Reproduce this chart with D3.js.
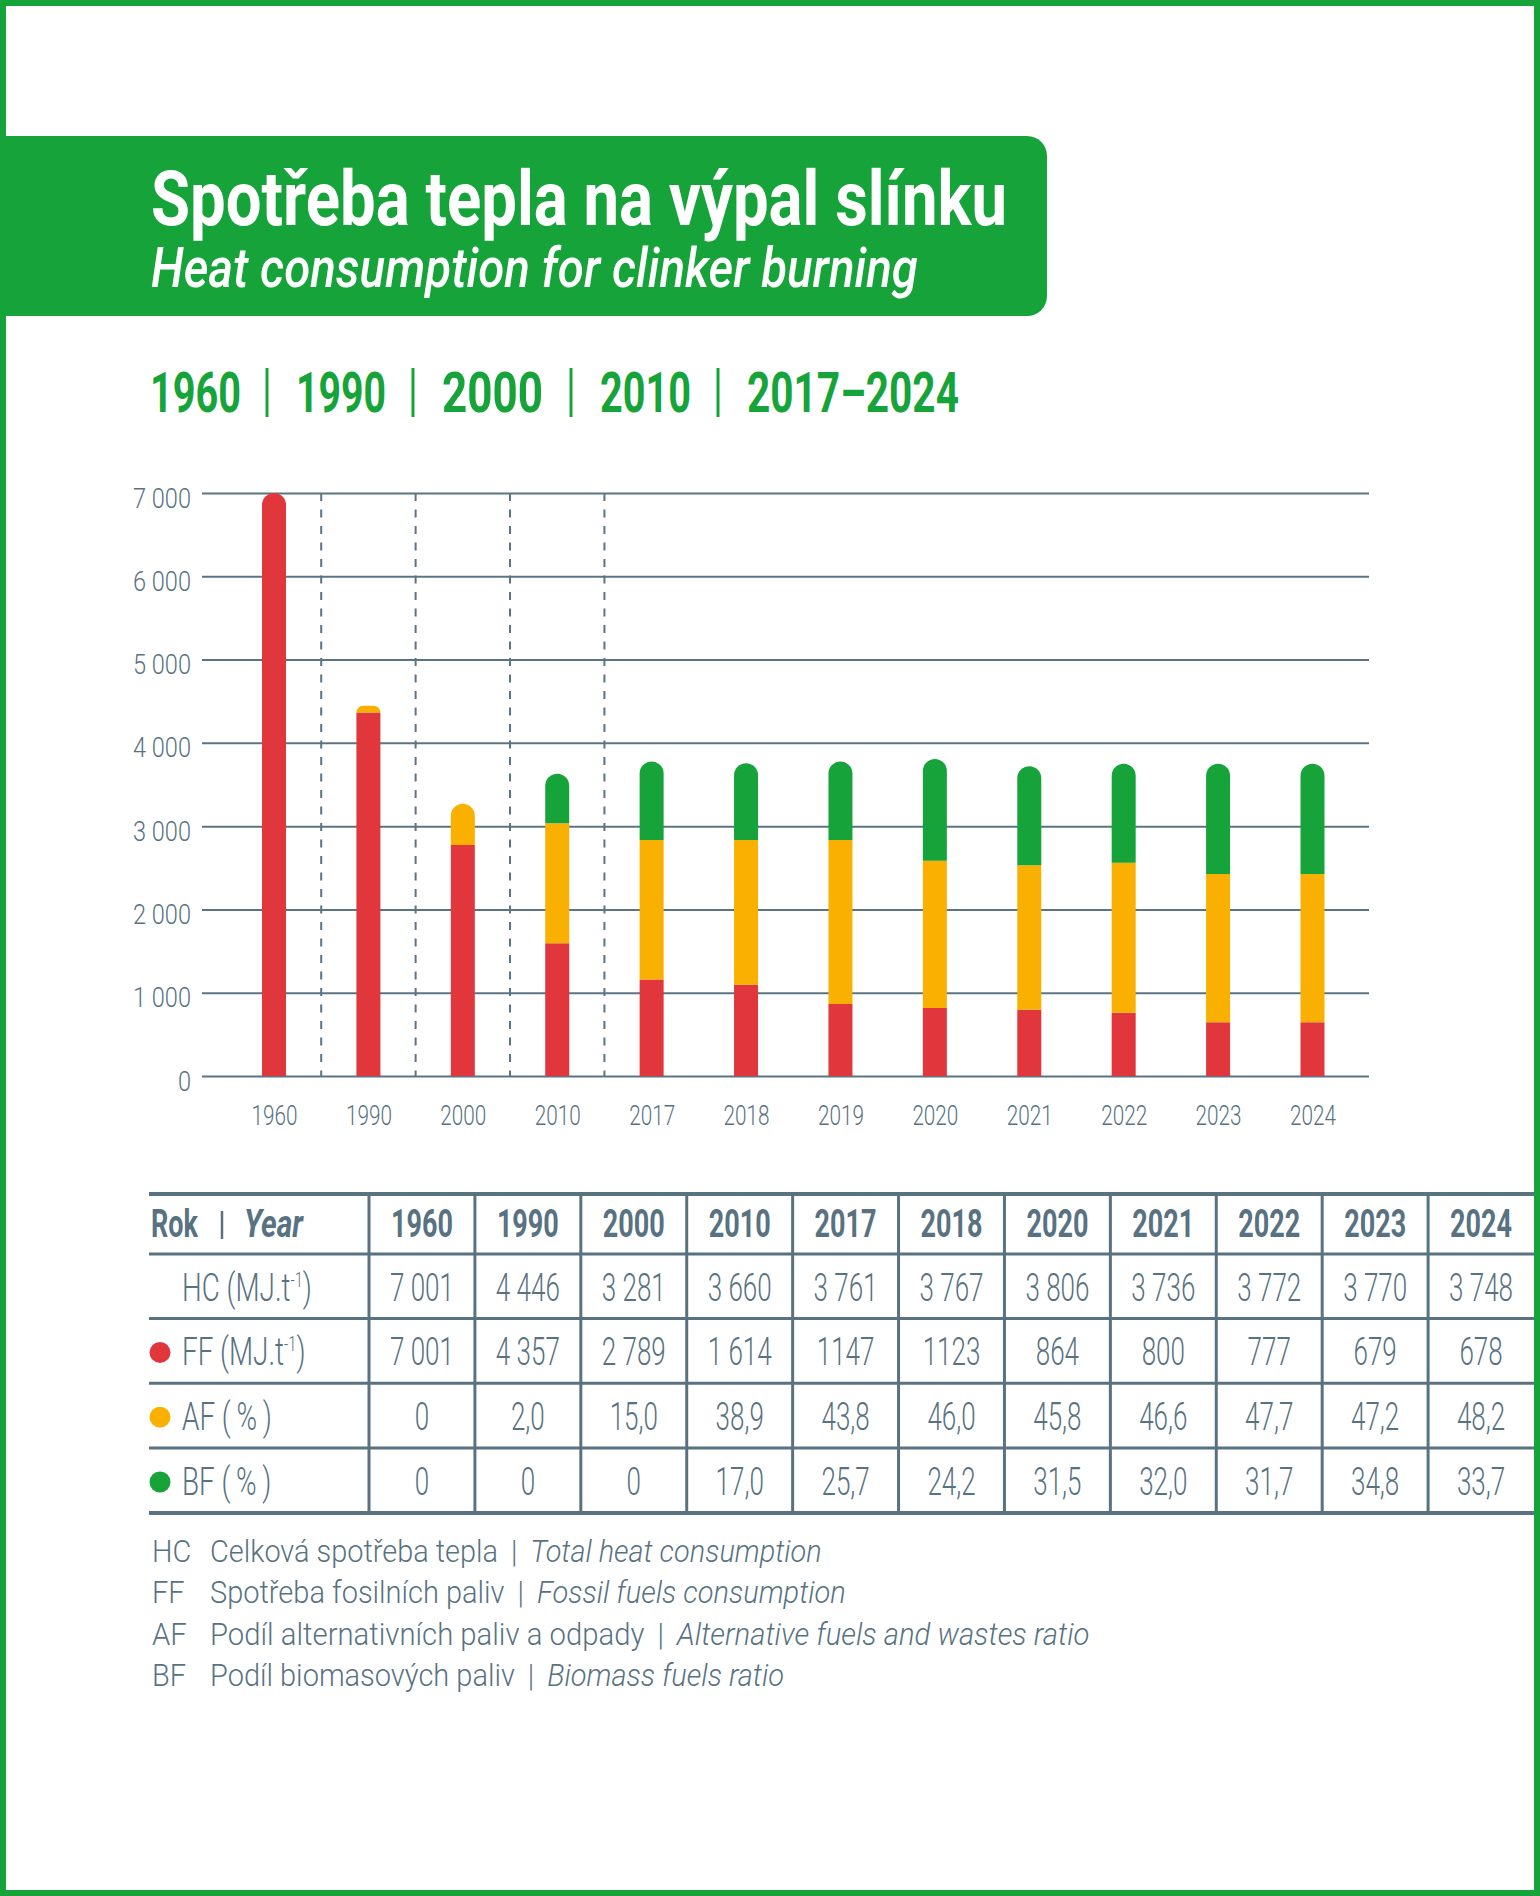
<!DOCTYPE html>
<html><head><meta charset="utf-8">
<script src="https://cdn.jsdelivr.net/npm/d3@7"></script>
<style>html,body{margin:0;padding:0;background:#fff;} svg{display:block;font-family:Roboto,"Noto Sans",sans-serif;}</style>
</head><body>
<svg id="c" width="1540" height="1896"></svg>
<script>
// ---------- DATA ----------
const years = ["1960","1990","2000","2010","2017","2018","2019","2020","2021","2022","2023","2024"];
const ffSeg = [7001, 4365, 2775, 1595, 1160, 1095, 865, 815, 795, 760, 645, 645];
const afSeg = [0, 80, 495, 1440, 1675, 1740, 1970, 1770, 1735, 1800, 1780, 1780];
const bfSeg = [0, 0, 0, 595, 940, 920, 940, 1220, 1190, 1190, 1325, 1325];
const yTicks = [0, 1000, 2000, 3000, 4000, 5000, 6000, 7000];
const periodLabels = ["1960","1990","2000","2010","2017–2024"];
const tableYears = ["1960","1990","2000","2010","2017","2018","2020","2021","2022","2023","2024"];
const hcRow = ["7 001","4 446","3 281","3 660","3 761","3 767","3 806","3 736","3 772","3 770","3 748"];
const ffRow = ["7 001","4 357","2 789","1 614","1147","1123","864","800","777","679","678"];
const afRow = ["0","2,0","15,0","38,9","43,8","46,0","45,8","46,6","47,7","47,2","48,2"];
const bfRow = ["0","0","0","17,0","25,7","24,2","31,5","32,0","31,7","34,8","33,7"];
const rowAbbr = ["HC","FF","AF","BF"];
const rowUnit = ["MJ.t","MJ.t","%","%"];
const legendAbbr = ["HC","FF","AF","BF"];
const legendCz = ["Celková spotřeba tepla","Spotřeba fosilních paliv","Podíl alternativních paliv a odpady","Podíl biomasových paliv"];
const legendEn = ["Total heat consumption","Fossil fuels consumption","Alternative fuels and wastes ratio","Biomass fuels ratio"];

// ---------- STYLE / LAYOUT ----------
const C = {text:"#587282", grid:"#5b7484", green:"#16a43a", red:"#e0363c", orange:"#f9b000", white:"#ffffff"};
const periodBox = [[150, 239], [296, 384], [442, 541], [600, 689], [747, 957]];
const periodSep = [267, 413, 571, 718];
const svg = d3.select("#c");

function addText(parent, str, o) {
  return parent.append("text")
    .attr("font-size", o.size).attr("font-weight", o.weight || 400)
    .attr("font-style", o.style || "normal").attr("fill", o.fill || C.text)
    .attr("text-anchor", o.anchor || "start").text(str);
}
function place(t, x, y, sx) { return t.attr("transform", `translate(${x},${y}) scale(${sx},1)`); }
function len(t) { return t.node().getComputedTextLength(); }
function factor(str, o, target) { const t = addText(svg, str, o); const f = target / len(t); t.remove(); return f; }

// ---------- TITLE BOX ----------
svg.append("path").attr("fill", C.green)
  .attr("d", "M0,136 H1027 A20,20 0 0 1 1047,156 V296 A20,20 0 0 1 1027,316 H0 Z");
const t1 = addText(svg, "Spotřeba tepla na výpal slínku", {size:76, weight:700, fill:C.white});
place(t1, 151, 225, 856 / len(t1));
const t2 = addText(svg, "Heat consumption for clinker burning", {size:55, weight:500, style:"italic", fill:C.white});
place(t2, 151, 287, 767 / len(t2));

// ---------- PERIOD ROW ----------
const pOpt = {size:55, weight:700, fill:C.green};
periodLabels.forEach((p, i) => {
  const t = addText(svg, p, pOpt);
  const [a, b] = periodBox[i];
  place(t, a, 412, (b - a + 2) / len(t));
});
periodSep.forEach(sx => {
  svg.append("line").attr("x1", sx).attr("x2", sx).attr("y1", 368).attr("y2", 417)
    .attr("stroke", C.green).attr("stroke-width", 3);
});

// ---------- CHART ----------
const y = d3.scaleLinear().domain([0, 7000]).range([1076, 493]);
const x = d3.scalePoint().domain(years).range([274, 1312.5]);
const gridLeft = 202, gridRight = 1369, barW = 24;
const loc = d3.formatLocale({decimal:",", thousands:" ", grouping:[3], currency:["",""]});
const fmt = loc.format(",");

const yOpt = {size:27, weight:300};
const yf = factor("7 000", yOpt, 58);
const yAxis = svg.append("g").attr("transform", `translate(${gridLeft},0)`)
  .call(d3.axisLeft(y).tickValues(yTicks).tickFormat(fmt).tickSize(-(gridRight - gridLeft)).tickPadding(11));
yAxis.attr("font-family", null).attr("font-size", null);
yAxis.select(".domain").remove();
yAxis.selectAll(".tick line").attr("stroke", C.grid).attr("stroke-width", 2);
yAxis.selectAll(".tick text").attr("x", null).attr("dy", null)
  .attr("font-size", yOpt.size).attr("font-weight", 300).attr("fill", C.text)
  .attr("transform", `translate(-11,14) scale(${yf},1)`);

// dashed separators between first periods
const step = x.step();
for (let i = 0; i < 4; i++) {
  const dx = x(years[i]) + step / 2;
  svg.append("line").attr("x1", dx).attr("x2", dx).attr("y1", y(7000)).attr("y2", y(0))
    .attr("stroke", C.grid).attr("stroke-width", 2).attr("stroke-dasharray", "8,8.5");
}

// x axis labels
const xOpt = {size:28, weight:300};
const xf = factor("1960", xOpt, 46);
const xAxis = svg.append("g").attr("transform", `translate(0,${y(0)})`)
  .call(d3.axisBottom(x).tickSize(0).tickPadding(0));
xAxis.attr("font-family", null).attr("font-size", null);
xAxis.select(".domain").remove();
xAxis.selectAll(".tick text").attr("y", null).attr("dy", null)
  .attr("font-size", xOpt.size).attr("font-weight", 300).attr("fill", C.text)
  .attr("transform", `translate(0,49) scale(${xf},1)`);

// stacked bars
const data = years.map((yr, i) => ({year: yr, ff: ffSeg[i], af: afSeg[i], bf: bfSeg[i]}));
const keys = ["ff", "af", "bf"];
const colors = {ff: C.red, af: C.orange, bf: C.green};
const stacked = d3.stack().keys(keys)(data);
function barPath(x0, w, yTop, yBot, round) {
  if (!round) return `M${x0},${yBot}V${yTop}H${x0 + w}V${yBot}Z`;
  const r = Math.min(w / 2, yBot - yTop);
  return `M${x0},${yBot}V${yTop + r}A${r},${r} 0 0 1 ${x0 + r},${yTop}H${x0 + w - r}A${r},${r} 0 0 1 ${x0 + w},${yTop + r}V${yBot}Z`;
}
const bars = svg.append("g");
stacked.forEach((layer, li) => {
  layer.forEach((d, i) => {
    if (d[1] - d[0] <= 0) return;
    const isTop = keys.slice(li + 1).every(k => data[i][k] === 0);
    const x0 = x(data[i].year) - barW / 2;
    bars.append("path").attr("fill", colors[layer.key])
      .attr("d", barPath(x0, barW, y(d[1]), y(d[0]), isTop));
  });
});

// ---------- TABLE ----------
const tL = 149, tC = 369, tR = 1534;
const colW = (tR - tC) / tableYears.length;
const rowsY = [1194, 1254, 1318.5, 1383.3, 1448, 1513];
const tg = svg.append("g");
rowsY.forEach((ry, i) => {
  tg.append("line").attr("x1", tL).attr("x2", tR).attr("y1", ry).attr("y2", ry)
    .attr("stroke", C.text).attr("stroke-width", (i === 0 || i === rowsY.length - 1) ? 4 : 3);
});
for (let k = 0; k < tableYears.length; k++) {
  const vx = tC + k * colW;
  tg.append("line").attr("x1", vx).attr("x2", vx).attr("y1", rowsY[0]).attr("y2", rowsY[rowsY.length - 1])
    .attr("stroke", C.text).attr("stroke-width", 3);
}
const hOpt = {size:38, weight:700, anchor:"middle"};
const hf = factor("1960", hOpt, 62);
tableYears.forEach((yr, k) => {
  place(addText(tg, yr, hOpt), tC + (k + 0.5) * colW, 1237, hf);
});
// header label
const rok = addText(tg, "Rok", {size:38, weight:700});
place(rok, 151, 1237, hf);
tg.append("line").attr("x1", 222).attr("x2", 222).attr("y1", 1211).attr("y2", 1239)
  .attr("stroke", C.text).attr("stroke-width", 2.5);
const yr = addText(tg, "Year", {size:38, weight:700, style:"italic"});
place(yr, 244, 1237, (303 - 244) / len(yr));

// data rows
const vOpt = {size:38, weight:300, anchor:"middle"};
const vf = factor("7 001", vOpt, 64);
const rowsData = [hcRow, ffRow, afRow, bfRow];
const dotColors = [null, C.red, C.orange, C.green];
function rowLabel(i) {
  const t = addText(tg, "", {size:38, weight:300});
  if (rowUnit[i] === "MJ.t") {
    t.append("tspan").text(`${rowAbbr[i]} (${rowUnit[i]}`);
    t.append("tspan").attr("dy", -14).attr("font-size", 20).text("-1");
    t.append("tspan").attr("dy", 14).text(")");
  } else {
    t.append("tspan").text(`${rowAbbr[i]} (\u2009${rowUnit[i]}\u2009)`);
  }
  return t;
}
const tmpL = rowLabel(0); const lf = 130 / len(tmpL); tmpL.remove();
rowsData.forEach((row, r) => {
  const mid = (rowsY[r + 1] + rowsY[r + 2]) / 2;
  const base = mid + 14.5;
  if (dotColors[r]) tg.append("circle").attr("cx", 160).attr("cy", base - 13).attr("r", 10.5).attr("fill", dotColors[r]);
  place(rowLabel(r), 182, base, lf);
  row.forEach((v, k) => place(addText(tg, v, vOpt), tC + (k + 0.5) * colW, base, vf));
});

// ---------- LEGEND ----------
const legW = [612, 636, 880, 574];
const legY = [1562, 1603, 1645, 1686];
legendCz.forEach((cz, i) => {
  const t = addText(svg, "", {size:30.5, weight:300});
  t.append("tspan").text(cz + " \u2009|\u2009 ");
  t.append("tspan").attr("font-style", "italic").text(legendEn[i]);
  const f = legW[i] / len(t);
  place(t, 210, legY[i], f);
  place(addText(svg, legendAbbr[i], {size:30.5, weight:300}), 152, legY[i], f);
});

// ---------- FRAME ----------
svg.append("rect").attr("x", 3).attr("y", 3).attr("width", 1534).attr("height", 1890)
  .attr("fill", "none").attr("stroke", C.green).attr("stroke-width", 6);
</script>
</body></html>
